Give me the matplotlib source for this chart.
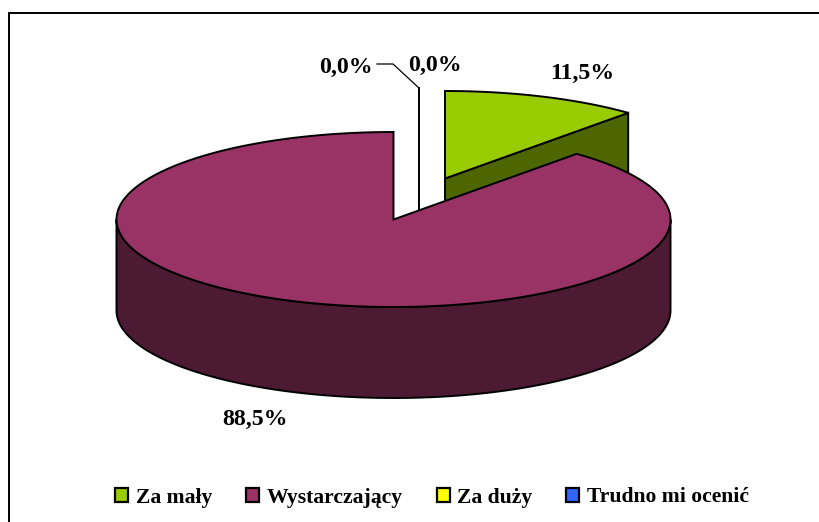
import numpy as np
import matplotlib
matplotlib.use("Agg")
import matplotlib.pyplot as plt
from matplotlib.patches import Polygon, Rectangle

categories = ["Za mały", "Wystarczający", "Za duży", "Trudno mi ocenić"]
values = [11.5, 88.5, 0.0, 0.0]
value_labels = ["11,5%", "88,5%", "0,0%", "0,0%"]
top_colors = ["#99CC00", "#993366", "#FFFF00", "#3366FF"]
side_colors = ["#4D6600", "#4D1A33", "#808000", "#1A3380"]

W, H = 820, 522
CX, CY = 393.5, 219.5
RX, RY = 277.0, 87.5
DEPTH = 91.0
EXPLODE_GREEN = (51.5, -41.0)
ZERO_X, ZERO_Y = 25.5, -44.0

fig = plt.figure(figsize=(W / 100, H / 100), dpi=100, facecolor="white")
ax = fig.add_axes([0, 0, 1, 1])
ax.set_xlim(0, W)
ax.set_ylim(H, 0)
ax.axis("off")
plt.rcParams["font.family"] = ["Liberation Serif"]

# frame: only the top and left edges fall inside the picture
ax.plot([9, 9, W], [H, 13, 13], color="black", lw=1.4, zorder=0, solid_joinstyle="miter")


def arc(a0, a1, cx, cy, n=240):
    t = np.radians(np.linspace(a0, a1, n))
    return np.column_stack([cx + RX * np.sin(t), cy - RY * np.cos(t)])


edges = np.cumsum([0] + values) / sum(values) * 360
LW = 1.4

# green slice (exploded)
a0, a1 = edges[0], edges[1]
gx, gy = CX + EXPLODE_GREEN[0], CY + EXPLODE_GREEN[1]
g_arc = arc(a0, a1, gx, gy)
apex = np.array([gx, gy])
ax.add_patch(Polygon(np.array([apex, g_arc[-1], g_arc[-1] + [0, DEPTH], apex + [0, DEPTH]]),
                     fc=side_colors[0], ec="black", lw=LW, zorder=2))
ax.add_patch(Polygon(np.vstack([apex, g_arc]), fc=top_colors[0], ec="black", lw=LW, zorder=3))

# zero-size slices seen as a single line
ax.plot([CX + ZERO_X] * 2, [CY - RY + ZERO_Y, CY + ZERO_Y + DEPTH], color="black", lw=LW, zorder=2)

# maroon slice
a0, a1 = edges[1], edges[2]
m_arc = arc(a0, a1, CX, CY)
front = arc(max(a0, 90), 270, CX, CY)
ax.add_patch(Polygon(np.vstack([front, (front + [0, DEPTH])[::-1]]),
                     fc=side_colors[1], ec="black", lw=LW, zorder=4))
ax.add_patch(Polygon(np.vstack([[CX, CY], m_arc]), fc=top_colors[1], ec="black", lw=LW, zorder=5))

# data labels
lab = dict(fontsize=17.2, fontweight="bold", ha="center", va="center", color="black", zorder=6)
ax.text(582.5, 73, value_labels[0], **lab)
ax.text(255, 419, value_labels[1], **lab)
ax.text(345.5, 67, value_labels[2], **lab)
ax.text(435, 65, value_labels[3], **lab)
ax.plot([377, 393, 419], [64, 64, 88], color="black", lw=0.9, zorder=6)

# legend
handles = [Rectangle((0, 0), 1, 1, fc=c, ec="black", lw=1.6) for c in top_colors]
ax.legend(handles, categories, ncol=4, frameon=False, loc="center", bbox_to_anchor=(432 / W, 1 - 497.5 / H),
          prop={"family": "Liberation Serif", "weight": "bold", "size": 15.6},
          handlelength=0.6, handleheight=0.63, handletextpad=0.33, columnspacing=1.58,
          borderpad=0, borderaxespad=0)

fig.savefig("out.png", dpi=100, facecolor="white")
